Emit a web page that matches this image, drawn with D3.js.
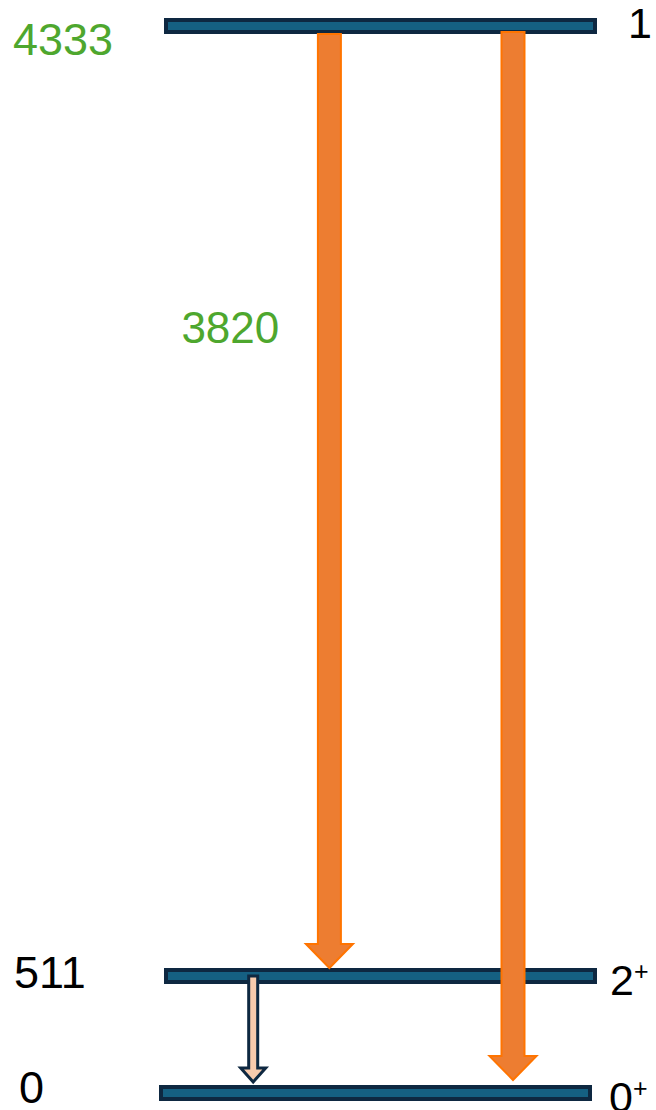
<!DOCTYPE html>
<html lang="en">
<head>
<meta charset="UTF-8">
<title>Level scheme</title>
<script src="https://d3js.org/d3.v7.min.js"></script>
<style>
body {
  margin: 0;
  background: white;
}
svg {
  display: block;
  font-family: "Liberation Sans", Arial, sans-serif;
}
</style>
</head>
<body>
<svg></svg>
<script>
// levels (keV), spin labels, label colours
let levelEnergy = [4333, 511, 0];
let levelSpin = ["1", "2", "0"];
let levelParity = ["", "+", "+"];
let levelLabelColor = ["#4ea72e", "black", "black"];

// transitions: from level, to level, label
let transFrom = [4333, 4333, 511];
let transTo = [511, 0, 0];
let transLabel = ["3820", "", ""];
let transKind = ["strong", "strong", "weak"];

let width = 656;
let height = 1110;

let svg = d3.select("svg")
  .attr("width", width)
  .attr("height", height);

// energy axis is not to scale, piecewise
let y = d3.scaleLinear()
  .domain([0, 511, 4333])
  .range([1093, 976, 26]);

// horizontal position along a level bar
let x = d3.scaleLinear()
  .domain([0, 1])
  .range([164, 597]);

// small layout tweaks per level (the ground state is nudged left in the original)
let levelShift = {4333: 0, 511: 0, 0: -5};
let energyDy = {4333: 29, 511: 12, 0: 10};
let energyDx = {4333: 13, 511: 14, 0: 19};
let spinDy = {4333: 12, 511: 19, 0: 19};
let spinDx = {4333: 628, 511: 610, 0: 609};

// where each arrow sits along the bar, and its ends
let transPos = [0.382, 0.806, 0.206];
let transStartDy = [8, 6, 0];
let transEndDy = [-8, -13, -11];

let levels = levelEnergy.map((e, i) => ({
  e: e, spin: levelSpin[i], parity: levelParity[i], color: levelLabelColor[i]
}));

let lv = svg.append("g");
lv.selectAll("rect").data(levels).enter().append("rect")
  .attr("x", d => x(0) + 2 + levelShift[d.e])
  .attr("y", d => y(d.e) - 6)
  .attr("width", x(1) - x(0) - 4)
  .attr("height", 12)
  .attr("fill", "#156082")
  .attr("stroke", "#0e2841")
  .attr("stroke-width", 4);

lv.selectAll("text.energy").data(levels).enter().append("text")
  .attr("class", "energy")
  .attr("x", d => energyDx[d.e])
  .attr("y", d => y(d.e) + energyDy[d.e])
  .attr("font-size", 45)
  .attr("fill", d => d.color)
  .text(d => d.e);

let spins = lv.selectAll("text.spin").data(levels).enter().append("text")
  .attr("class", "spin")
  .attr("x", d => spinDx[d.e])
  .attr("y", d => y(d.e) + spinDy[d.e])
  .attr("font-size", 43)
  .attr("fill", "black");
spins.append("tspan").text(d => d.spin);
spins.append("tspan")
  .attr("font-size", 25)
  .attr("dy", -15)
  .text(d => d.parity);

function arrowPath(cx, y0, y1, shaft, head, headLen) {
  let p = d3.path();
  p.moveTo(cx - shaft / 2, y0);
  p.lineTo(cx + shaft / 2, y0);
  p.lineTo(cx + shaft / 2, y1 - headLen);
  p.lineTo(cx + head / 2, y1 - headLen);
  p.lineTo(cx, y1);
  p.lineTo(cx - head / 2, y1 - headLen);
  p.lineTo(cx - shaft / 2, y1 - headLen);
  p.closePath();
  return p.toString();
}

let trans = transFrom.map((f, i) => ({
  from: f, to: transTo[i], label: transLabel[i], kind: transKind[i],
  pos: transPos[i], s: transStartDy[i], t: transEndDy[i]
}));

let tr = svg.append("g");
tr.selectAll("path").data(trans).enter().append("path")
  .attr("d", d => {
    let cx = x(d.pos);
    let y0 = y(d.from) + d.s;
    let y1 = y(d.to) + d.t;
    return d.kind == "strong"
      ? arrowPath(cx, y0, y1, 23, 47, 24)
      : arrowPath(cx, y0, y1, 9, 25, 14);
  })
  .attr("fill", d => d.kind == "strong" ? "#ed7d31" : "#f8cbad")
  .attr("stroke", d => d.kind == "strong" ? "#ff7400" : "#0e2841")
  .attr("stroke-width", d => d.kind == "strong" ? 2 : 3)
  .attr("stroke-linejoin", "miter");

// transition label sits left of its arrow, in the upper third
tr.selectAll("text").data(trans.filter(d => d.label)).enter().append("text")
  .attr("x", d => x(d.pos) - 148)
  .attr("y", d => y(d.from) + 0.333 * (y(d.to) - y(d.from)) + 1)
  .attr("font-size", 44)
  .attr("fill", "#4ea72e")
  .text(d => d.label);
</script>
</body>
</html>
